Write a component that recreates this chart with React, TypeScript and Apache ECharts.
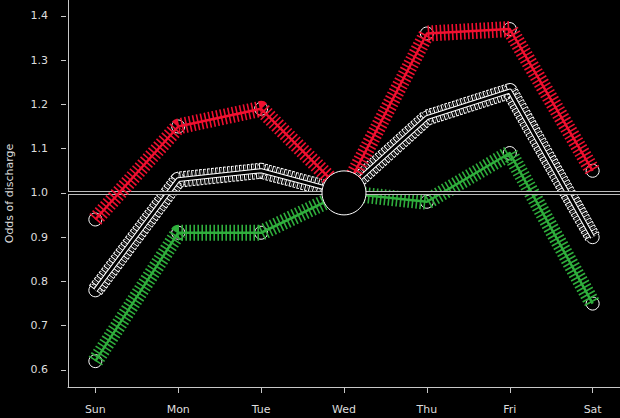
import React, { useEffect, useRef } from "react";
import * as echarts from "echarts";

const days = ["Sun", "Mon", "Tue", "Wed", "Thu", "Fri", "Sat"];
const redValues = [0.94, 1.15, 1.19, 1.0, 1.36, 1.37, 1.05];
const blackValues = [0.78, 1.03, 1.05, 1.0, 1.17, 1.23, 0.9];
const greenValues = [0.62, 0.91, 0.91, 1.0, 0.98, 1.09, 0.75];
const yTicks = [0.6, 0.7, 0.8, 0.9, 1.0, 1.1, 1.2, 1.3, 1.4];
const refValue = 1.0;
const refDayIndex = 3;

const RED = "#f01030";
const GREEN = "#2fae3c";
const TEXT = "#dddddd";
const AXIS = "#c8c8c8";
const FONT = "DejaVu Sans";

function pts(values: number[]) {
  return values.map((v, i) => [i, v]);
}

function lineSeries(values: number[], color: string, width: number, dash: any, z: number, dashOffset = 0) {
  return {
    type: "line",
    data: pts(values),
    showSymbol: false,
    symbol: "none",
    silent: true,
    z,
    lineStyle: {
      color,
      width,
      type: dash,
      dashOffset,
      cap: "butt",
      join: "round",
      opacity: 1,
    },
  };
}

function markerSeries(values: number[], z: number) {
  return {
    type: "scatter",
    data: pts(values),
    symbol: "circle",
    symbolSize: 13,
    silent: true,
    z,
    itemStyle: { color: "#000", borderColor: "#ffffff", borderWidth: 1, opacity: 1 },
  };
}

export default function App() {
  const ref = useRef<HTMLDivElement>(null);
  useEffect(() => {
    if (!ref.current) return;
    const chart = echarts.init(ref.current, null, { renderer: "svg" });
    const xMin = -0.33;
    const xMax = days.length - 1 + 0.33;
    const yMin = 0.5616;
    const yMax = 1.4357;
    chart.setOption({
      animation: false,
      backgroundColor: "#000000",
      grid: { left: 68, right: 0, top: 0, bottom: 31, containLabel: false, outerBoundsMode: "none" },
      xAxis: {
        type: "value",
        min: xMin,
        max: xMax,
        axisLine: { show: true, onZero: false, lineStyle: { color: AXIS, width: 1 } },
        axisTick: {
          show: true,
          length: 6,
          customValues: days.map((_, i) => i),
          lineStyle: { color: AXIS },
        },
        axisLabel: {
          show: true,
          customValues: days.map((_, i) => i),
          formatter: (v: number) => days[Math.round(v)] ?? "",
          color: TEXT,
          fontFamily: FONT,
          fontSize: 11,
          margin: 17,
        },
        splitLine: { show: false },
      },
      yAxis: [
        {
          type: "value",
          min: yMin,
          max: yMax,
          position: "left",
          axisLine: { show: true, onZero: false, lineStyle: { color: AXIS, width: 1 } },
          axisTick: { show: false },
          axisLabel: { show: false },
          splitLine: { show: false },
        },
        {
          type: "value",
          min: yMin,
          max: yMax,
          position: "left",
          offset: 2,
          axisLine: { show: false, onZero: false },
          axisTick: {
            show: true,
            length: 5,
            customValues: yTicks,
            lineStyle: { color: AXIS },
          },
          axisLabel: {
            show: true,
            customValues: yTicks,
            formatter: (v: number) => v.toFixed(1),
            color: TEXT,
            fontFamily: FONT,
            fontSize: 11,
            margin: 18,
          },
          splitLine: { show: false },
          name: "Odds of discharge",
          nameLocation: "middle",
          nameRotate: 90,
          nameGap: 51,
          nameTextStyle: { color: TEXT, fontFamily: FONT, fontSize: 11 },
        },
      ],
      series: [
        {
          type: "line",
          data: [],
          silent: true,
          z: 1,
          markLine: {
            silent: true,
            symbol: "none",
            label: { show: false },
            lineStyle: { color: "#bbbbbb", width: 4, type: "solid", opacity: 1 },
            data: [{ yAxis: refValue }],
          },
        },
        {
          type: "line",
          data: [],
          silent: true,
          z: 1,
          markLine: {
            silent: true,
            symbol: "none",
            label: { show: false },
            lineStyle: { color: "#000000", width: 2, type: "solid", opacity: 1 },
            data: [{ yAxis: refValue }],
          },
        },
        markerSeries(blackValues, 2),
        markerSeries(greenValues, 2),
        markerSeries(redValues, 2),
        // black series: white outlined hatching
        lineSeries(blackValues, "#ffffff", 16, [2.8, 1.2], 3),
        lineSeries(blackValues, "#000000", 14, [1.6, 2.4], 3, -0.6),
        lineSeries(blackValues, "#ffffff", 5, "solid", 3),
        lineSeries(blackValues, "#000000", 3, "solid", 3),
        // green series
        lineSeries(greenValues, GREEN, 16, [1.6, 2.4], 4),
        lineSeries(greenValues, GREEN, 2.5, "solid", 4),
        // red series
        lineSeries(redValues, RED, 16, [1.6, 2.4], 5),
        lineSeries(redValues, RED, 2.5, "solid", 5),
        {
          type: "scatter",
          data: [[refDayIndex, refValue]],
          symbol: "circle",
          symbolSize: 44,
          silent: true,
          z: 10,
          itemStyle: { color: "#000", borderColor: "#ffffff", borderWidth: 1, opacity: 1 },
        },
      ],
    });
    return () => chart.dispose();
  }, []);
  return (
    <div
      ref={ref}
      style={{ position: "absolute", left: 0, top: 0, width: 620, height: 418, background: "#000" }}
    />
  );
}
